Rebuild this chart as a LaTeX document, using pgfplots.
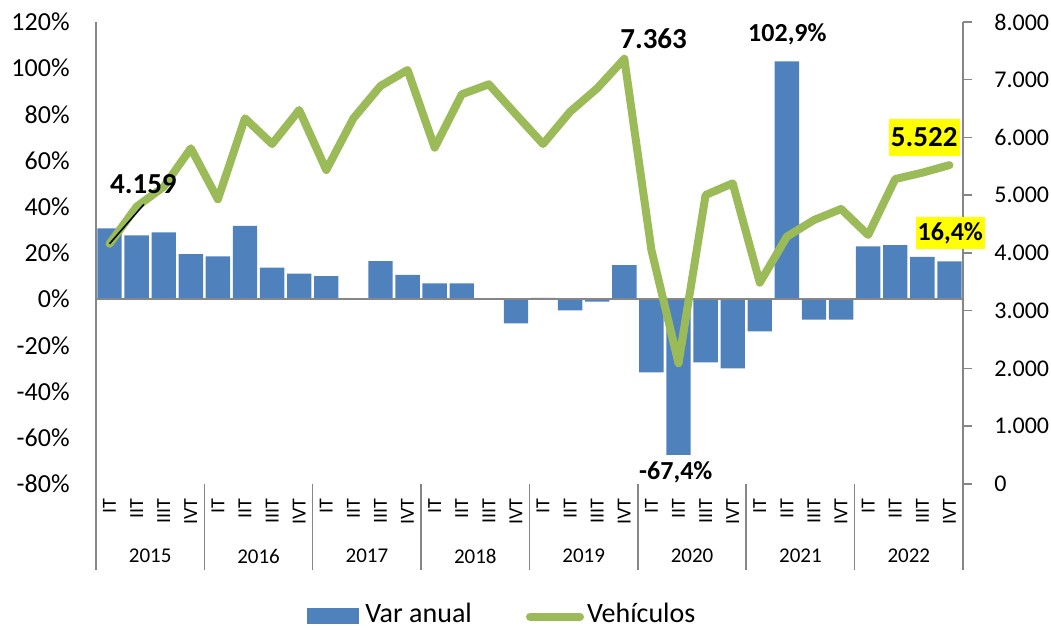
\documentclass[border=0pt]{standalone}
\usepackage{pgfplots}
\pgfplotsset{compat=1.18}
\usepackage{fontspec}
\setmainfont{Carlito}
\definecolor{barblue}{HTML}{4F81BD}
\definecolor{linegreen}{HTML}{9BBB59}
\definecolor{axgray}{HTML}{868686}
\definecolor{hlyellow}{HTML}{FFFF00}
\newcommand{\fs}[1]{\fontsize{#1}{#1}\selectfont}
\begin{document}
\begin{tikzpicture}
\path[use as bounding box] (-48pt,-73pt) rectangle (477.5pt,242pt);
\begin{axis}[
  at={(0,0)}, anchor=south west,
  scale only axis, width=433.5pt, height=231pt,
  clip=false,
  xmin=-0.5, xmax=31.5, ymin=-80, ymax=120,
  axis y line*=left, axis x line*=bottom,
  x axis line style={draw=none},
  y axis line style={draw=axgray, line width=0.75pt, -},
  ytick={-80,-60,...,120},
  ytick style={draw=none},
  yticklabel={\pgfmathprintnumber{\tick}\%},
  /pgf/number format/assume math mode=true,
  yticklabel style={font=\fs{13}, inner sep=0pt, xshift=-13pt},
  xtick={0,...,31},
  xticklabels={IT,IIT,IIIT,IVT,IT,IIT,IIIT,IVT,IT,IIT,IIIT,IVT,IT,IIT,IIIT,IVT,IT,IIT,IIIT,IVT,IT,IIT,IIIT,IVT,IT,IIT,IIIT,IVT,IT,IIT,IIIT,IVT},
  xtick style={draw=none},
  xticklabel style={font=\fs{10}, rotate=90, anchor=east, inner sep=0pt},
  xticklabel shift=7pt,
]
\addplot[ybar, bar width=0.9, fill=barblue, draw=none] coordinates {
(0,30.7) (1,27.6) (2,28.9) (3,19.5) (4,18.5) (5,31.7) (6,13.7) (7,11.1)
(8,10.0) (9,-0.3) (10,16.5) (11,10.5) (12,6.8) (13,6.8) (14,-0.2) (15,-10.5)
(16,0.6) (17,-4.8) (18,-1.0) (19,14.7) (20,-31.7) (21,-67.4) (22,-27.4) (23,-30.0)
(24,-13.9) (25,102.9) (26,-8.8) (27,-8.8) (28,22.9) (29,23.4) (30,18.3) (31,16.4)
};
\draw[axgray, line width=0.75pt] (axis cs:-0.5,0) -- (axis cs:31.5,0);
\draw[axgray, line width=0.75pt] (axis cs:-0.5,-80) -- ([yshift=-43pt]axis cs:-0.5,-80);
\draw[axgray, line width=0.75pt] (axis cs:3.5,-80) -- ([yshift=-43pt]axis cs:3.5,-80);
\draw[axgray, line width=0.75pt] (axis cs:7.5,-80) -- ([yshift=-43pt]axis cs:7.5,-80);
\draw[axgray, line width=0.75pt] (axis cs:11.5,-80) -- ([yshift=-43pt]axis cs:11.5,-80);
\draw[axgray, line width=0.75pt] (axis cs:15.5,-80) -- ([yshift=-43pt]axis cs:15.5,-80);
\draw[axgray, line width=0.75pt] (axis cs:19.5,-80) -- ([yshift=-43pt]axis cs:19.5,-80);
\draw[axgray, line width=0.75pt] (axis cs:23.5,-80) -- ([yshift=-43pt]axis cs:23.5,-80);
\draw[axgray, line width=0.75pt] (axis cs:27.5,-80) -- ([yshift=-43pt]axis cs:27.5,-80);
\draw[axgray, line width=0.75pt] (axis cs:31.5,-80) -- ([yshift=-43pt]axis cs:31.5,-80);
\node[font=\fs{10.5}] at (axis cs:1.5,-80) [yshift=-36pt] {2015};
\node[font=\fs{10.5}] at (axis cs:5.5,-80) [yshift=-36pt] {2016};
\node[font=\fs{10.5}] at (axis cs:9.5,-80) [yshift=-36pt] {2017};
\node[font=\fs{10.5}] at (axis cs:13.5,-80) [yshift=-36pt] {2018};
\node[font=\fs{10.5}] at (axis cs:17.5,-80) [yshift=-36pt] {2019};
\node[font=\fs{10.5}] at (axis cs:21.5,-80) [yshift=-36pt] {2020};
\node[font=\fs{10.5}] at (axis cs:25.5,-80) [yshift=-36pt] {2021};
\node[font=\fs{10.5}] at (axis cs:29.5,-80) [yshift=-36pt] {2022};
\node[font=\fs{13}\bfseries] at (axis cs:25.02,114.7) {102,9\%};
\node[font=\fs{13}\bfseries] at (axis cs:20.9,-74.9) {-67,4\%};
\end{axis}
\begin{axis}[
  at={(0,0)}, anchor=south west,
  scale only axis, width=433.5pt, height=231pt,
  clip=false,
  xmin=-0.5, xmax=31.5, ymin=0, ymax=8000,
  axis y line*=right, axis x line=none,
  y axis line style={draw=axgray, line width=0.75pt, -},
  ytick={0,1000,...,8000},
  tick align=outside, major tick length=4.5pt,
  ytick style={draw=axgray, line width=0.75pt},
  /pgf/number format/1000 sep={.},
  /pgf/number format/assume math mode=true,
  yticklabel style={font=\fs{12}, inner sep=0pt, anchor=west, xshift=11pt},
]
\addplot[linegreen, line width=4pt, line join=round, line cap=round] coordinates {
(0,4159) (1,4802) (2,5148) (3,5813) (4,4930) (5,6332) (6,5887) (7,6476)
(8,5437) (9,6332) (10,6892) (11,7169) (12,5824) (13,6748) (14,6921) (15,6400)
(16,5887) (17,6447) (18,6852) (19,7363) (20,4052) (21,2090) (22,5004) (23,5207)
(24,3486) (25,4283) (26,4571) (27,4762) (28,4312) (29,5281) (30,5391) (31,5522)
};
\draw[black, line width=0.75pt] (axis cs:0,4159) -- (axis cs:1.27,4843);
\node[font=\fs{14.5}\bfseries] at (axis cs:1.25,5195) {4.159};
\node[font=\fs{14.5}\bfseries] at (axis cs:20.08,7706) {7.363};
\node[font=\fs{14.5}\bfseries, fill=hlyellow, inner xsep=1pt, inner ysep=0pt, minimum height=18.5pt] at (axis cs:30.07,6003) {5.522};
\end{axis}
\begin{axis}[
  at={(0,0)}, anchor=south west,
  scale only axis, width=433.5pt, height=231pt,
  clip=false, hide axis,
  xmin=-0.5, xmax=31.5, ymin=-80, ymax=120,
]
\node[font=\fs{13}\bfseries, fill=hlyellow, inner xsep=1pt, inner ysep=0pt, minimum height=16.3pt] at (axis cs:31.03,28.6) {16,4\%};
\end{axis}
% legend
\fill[barblue] (105.65pt,-70pt) rectangle (131.5pt,-61.85pt);
\node[font=\fs{14}, anchor=base west, inner sep=0pt] at (134.5pt,-69.3pt) {Var anual};
\draw[linegreen, line width=4pt, line cap=round] (217pt,-66.35pt) -- (242pt,-66.35pt);
\node[font=\fs{14}, anchor=base west, inner sep=0pt] at (245.35pt,-69.3pt) {Vehículos};
\end{tikzpicture}
\end{document}
